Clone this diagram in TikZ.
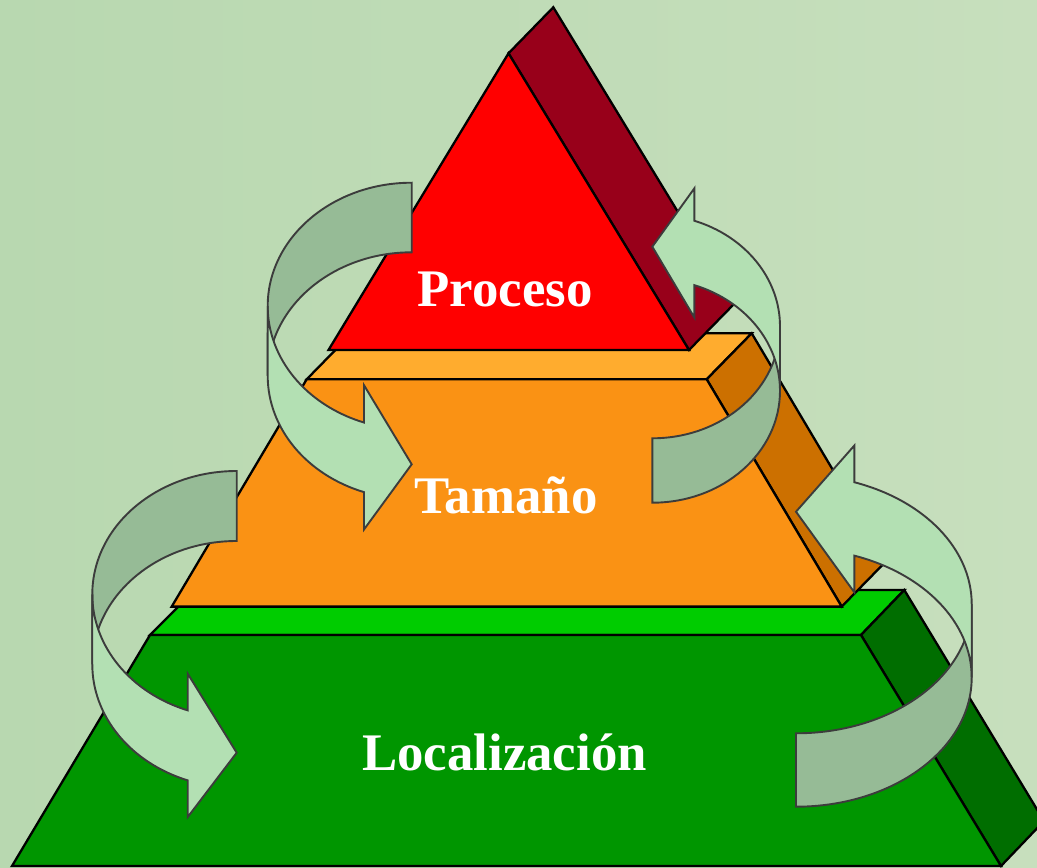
\documentclass[tikz,border=0pt]{standalone}
\usepackage{fontspec}
\setmainfont{Liberation Serif}
\definecolor{bgc}{RGB}{199,223,189}
\definecolor{bgd}{RGB}{184,216,176}
\definecolor{redf}{RGB}{255,0,0}
\definecolor{reds}{RGB}{152,0,26}
\definecolor{orat}{RGB}{255,172,46}
\definecolor{oraf}{RGB}{250,146,20}
\definecolor{oras}{RGB}{204,112,0}
\definecolor{grnt}{RGB}{0,204,0}
\definecolor{grnf}{RGB}{0,150,0}
\definecolor{grns}{RGB}{0,110,0}
\definecolor{arrl}{RGB}{179,224,179}
\definecolor{arrd}{RGB}{150,187,150}
\definecolor{arre}{RGB}{60,60,60}
% #1 x, #2 y, #3 rotation, #4 band thickness, #5 vertical radius,
% #6 horizontal radius, #7 head length, #8 head width, #9 tip distance
\newcommand\curvarrow[9]{%
  \begin{scope}[shift={(#1,#2)},rotate=#3]
    \pgfmathsetmacro\cA{acos(#7/#6)}
    \pgfmathsetmacro\cB{#5*sin(\cA)}
    \pgfmathsetmacro\cC{(#8-#4)/2}
    \pgfmathsetmacro\cY{#5+\cB-\cC}
    \pgfmathsetmacro\cZ{#5+#4+\cB+\cC}
    \pgfmathsetmacro\cW{#5+#4+\cB}
    \draw[arrback] (0,0)
      arc[start angle=270,end angle=180,x radius=#6pt,y radius=#5pt]
      -- (-#6,{#5+#4})
      arc[start angle=180,end angle=270,x radius=#6pt,y radius=#5pt]
      -- cycle;
    \draw[arrfront] (-#6,#5)
      arc[start angle=180,end angle={180-\cA},x radius=#6pt,y radius=#5pt]
      -- (-#7,\cY) -- (0,#9) -- (-#7,\cZ) -- (-#7,\cW)
      arc[start angle={180-\cA},end angle=180,x radius=#6pt,y radius=#5pt]
      -- cycle;
  \end{scope}}
\tikzset{
  face/.style={draw=black,line width=2.3pt,line join=miter},
  arrback/.style={fill=arrd,draw=arre,line width=1.9pt,line join=miter},
  arrfront/.style={fill=arrl,draw=arre,line width=1.9pt,line join=miter},
  lbl/.style={text=white,font=\fontsize{52.8}{60}\selectfont\bfseries,inner sep=0pt,anchor=base}
}
\begin{document}
\begin{tikzpicture}[x=1pt,y=1pt,yscale=-1]
\useasboundingbox (0,0) rectangle (1037,868);
\shade[left color=bgd,right color=bgc] (0,0) rectangle (1037,868);
\begin{scope}
\clip (0,0) rectangle (1037,868);
% green layer
\draw[face,fill=grnt] (150,635) -- (195,590) -- (904.3,590) -- (861,635) -- cycle;
\draw[face,fill=grns] (861,635) -- (904.3,590) -- (1044,821) -- (1001,866) -- cycle;
\draw[face,fill=grnf] (150,635) -- (861,635) -- (1001,866) -- (12,866) -- cycle;
% orange layer
\draw[face,fill=orat] (306.7,379.3) -- (351.7,333.3) -- (751.7,333.3) -- (706.7,379.3) -- cycle;
\draw[face,fill=oras] (706.7,379.3) -- (751.7,333.3) -- (886.7,560.6) -- (841.7,606.6) -- cycle;
\draw[face,fill=oraf] (306.7,379.3) -- (706.7,379.3) -- (841.7,606.6) -- (171.7,606.6) -- cycle;
% red layer
\draw[face,fill=reds] (508.5,53.3) -- (553.3,7.3) -- (734,304) -- (689,350) -- cycle;
\draw[face,fill=redf] (508.5,53.3) -- (689,350) -- (328.5,350) -- cycle;
\end{scope}
% labels
\node[lbl] (proceso) at (505,306) {Proceso};
\node[lbl] (tamano) at (506,513.3) {Tamaño};
\node[lbl] (local) at (504.5,770) {Localización};
% curved arrows
\curvarrow{411.7}{182.7}{0}{69.6}{123.4}{144}{47.7}{144.3}{281.6}
\curvarrow{236.7}{471}{0}{70}{123.35}{144.4}{49}{143.4}{281.7}
\curvarrow{652.3}{502.7}{180}{64.4}{111.9}{127.7}{42}{129}{256}
\curvarrow{796}{806.7}{180}{73.4}{129.2}{175.7}{58.3}{146.7}{295}
\end{tikzpicture}
\end{document}
